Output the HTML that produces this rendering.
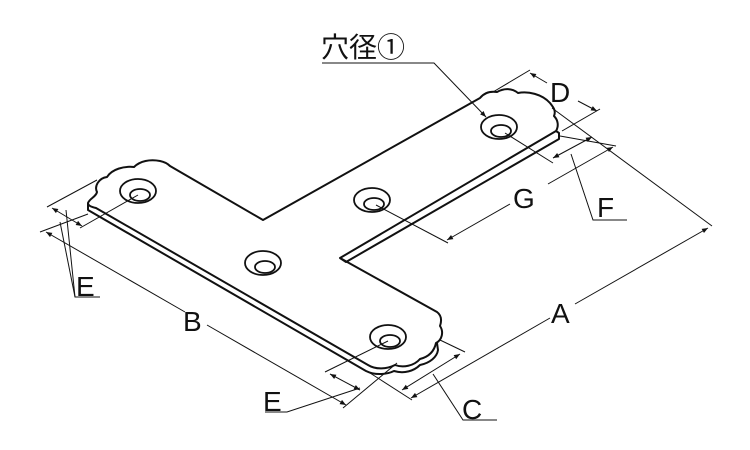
<!DOCTYPE html>
<html><head><meta charset="utf-8"><style>
html,body{margin:0;padding:0;background:#fff;}
svg{display:block;}
text{font-family:"Liberation Sans","Noto Sans CJK JP",sans-serif;fill:#111;}
</style></head><body>
<svg width="750" height="450" viewBox="0 0 750 450" xmlns="http://www.w3.org/2000/svg">
<defs>
<marker id="ar" viewBox="0 0 10 10" refX="10" refY="5" markerWidth="9" markerHeight="6" orient="auto-start-reverse" markerUnits="userSpaceOnUse">
<path d="M0,1 L10,5 L0,9 z" fill="#111"/></marker>
</defs>
<g fill="none" stroke="#111" stroke-width="2" stroke-linejoin="round">
<!-- top face outline -->
<path d="M88,203 C90,198 96,197 97,192 C94,186 99,178 107,177 C112,169 124,166 134,167 C140,161 150,159 160,161 C165,162 168,164 170,166 L263,220 L480,98 C484,93 490,91 497,92 C504,88 512,88 518,93 C528,91 542,94 550,103 C554,108 556,111 554,116 C558,120 559,126 556,131 L340,258 L437,312 C441,315 442,320 440,326 C444,332 442,340 436,343 C434,352 428,357 420,359 C414,366 403,368 395,365 C387,369 376,370 368,365 L96,208 C92,207 88,206 88,203 Z"/>
<!-- thickness -->
<path d="M88,203 L88,210 L366,371 C376,376 388,374 394,371 C404,374 414,371 420,365 C430,363 437,357 438,350 L437,343"/>
<path d="M556,131 L559,133 L559,139 L346,262 L340,258"/>
</g>
<!-- holes -->
<g fill="none" stroke="#111" stroke-width="1.8">
<ellipse cx="138" cy="191" rx="18" ry="12"/><ellipse cx="140" cy="195" rx="10" ry="6"/>
<ellipse cx="263" cy="263" rx="18" ry="12"/><ellipse cx="265" cy="267" rx="10" ry="6"/>
<ellipse cx="388" cy="337" rx="18" ry="12"/><ellipse cx="390" cy="341" rx="10" ry="6"/>
<ellipse cx="372" cy="200" rx="18" ry="12"/><ellipse cx="374" cy="204" rx="10" ry="6"/>
<ellipse cx="499" cy="127" rx="18" ry="12"/><ellipse cx="501" cy="131" rx="10" ry="6"/>
</g>
<g fill="none" stroke="#111" stroke-width="1">
<!-- left E / B -->
<line x1="97" y1="180" x2="47" y2="207"/>
<line x1="138" y1="195" x2="80" y2="228"/>
<line x1="52" y1="208" x2="82" y2="226" marker-start="url(#ar)" marker-end="url(#ar)"/>
<line x1="88" y1="214" x2="40" y2="232"/>
<line x1="46" y1="232" x2="185" y2="312" marker-start="url(#ar)"/>
<line x1="207" y1="325" x2="346" y2="405" marker-end="url(#ar)"/>
<polyline points="66,210 75,297 100,297"/>
<line x1="60" y1="222" x2="75" y2="297"/>
<!-- bottom E -->
<line x1="388" y1="341" x2="325" y2="372"/>
<line x1="330" y1="374" x2="360" y2="390" marker-start="url(#ar)" marker-end="url(#ar)"/>
<line x1="397" y1="363" x2="343" y2="408"/>
<polyline points="360,388 287,412 265,412"/>
<!-- C / A -->
<line x1="440" y1="340" x2="465" y2="352"/>
<line x1="370" y1="373" x2="412" y2="400"/>
<line x1="402" y1="390" x2="460" y2="354" marker-start="url(#ar)" marker-end="url(#ar)"/>
<polyline points="433,374 463,420 497,420"/>
<line x1="411" y1="398" x2="550" y2="318" marker-start="url(#ar)"/>
<line x1="575" y1="304" x2="708" y2="228" marker-end="url(#ar)"/>
<line x1="552" y1="108" x2="712" y2="226"/>
<!-- D -->
<line x1="493" y1="92" x2="530" y2="70"/>
<line x1="562" y1="131" x2="600" y2="109"/>
<line x1="530" y1="73" x2="547" y2="83" marker-start="url(#ar)"/>
<line x1="578" y1="101" x2="597" y2="111" marker-end="url(#ar)"/>
<!-- F / G -->
<line x1="505" y1="133" x2="553" y2="163"/>
<line x1="553" y1="158" x2="592" y2="137" marker-start="url(#ar)" marker-end="url(#ar)"/>
<line x1="560" y1="136" x2="616" y2="146"/>
<polyline points="571,154 593,220 627,220"/>
<line x1="376" y1="205" x2="448" y2="243"/>
<line x1="447" y1="240" x2="510" y2="204" marker-start="url(#ar)"/>
<line x1="548" y1="184" x2="613" y2="147" marker-end="url(#ar)"/>
<!-- label leader -->
<polyline points="322,63 434,63 486,117" marker-end="url(#ar)"/>
</g>
<g font-size="28">
<text x="321" y="57" font-size="28">穴径①</text>
<text x="550" y="102">D</text>
<text x="513" y="208">G</text>
<text x="597" y="217">F</text>
<text x="551" y="323">A</text>
<text x="183" y="331">B</text>
<text x="76" y="296">E</text>
<text x="263" y="411">E</text>
<text x="462" y="419">C</text>
</g>
</svg>
</body></html>
